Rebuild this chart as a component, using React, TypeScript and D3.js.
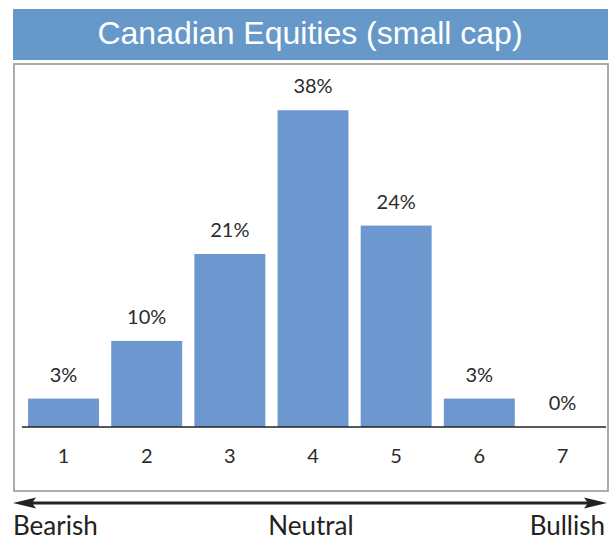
import React, {useEffect, useRef} from 'react'
import * as d3 from 'd3';

// chart values (percent of respondents per score)
const title = 'Canadian Equities (small cap)';
const scores = ['1', '2', '3', '4', '5', '6', '7'];
const shares = [3.4, 10.3, 20.7, 37.9, 24.1, 3.4, 0];
const sentimentLabels = ['Bearish', 'Neutral', 'Bullish'];

export default function App(){
    const svgRef = useRef<SVGSVGElement>(null);

    const W = 615, H = 542;
    const baseY = 427;
    const textFont = 'Lato, "Open Sans", sans-serif';

    useEffect(() => {
        const svg = d3.select(svgRef.current);
        svg.selectAll('*').remove();

        // title banner
        svg.append('rect')
            .attr('x', 13).attr('y', 9)
            .attr('width', 595).attr('height', 51)
            .attr('fill', '#6699c9');
        svg.append('text')
            .attr('x', 310).attr('y', 44)
            .attr('text-anchor', 'middle')
            .attr('font-family', '"Liberation Sans", Arial, sans-serif')
            .attr('font-size', 32)
            .attr('fill', '#fff')
            .text(title);

        // frame
        svg.append('rect')
            .attr('x', 14).attr('y', 64)
            .attr('width', 594).attr('height', 427)
            .attr('fill', 'none')
            .attr('stroke', '#a3a3a3')
            .attr('stroke-width', 1.8);

        const xscale = d3.scaleBand()
            .domain(scores)
            .range([22, 604])
            .paddingInner(0.147)
            .paddingOuter(0.073);

        const yscale = d3.scaleLinear()
            .domain([0, 40])
            .range([baseY, baseY - 334.3]);

        const data = scores.map((s, i) => ({score: s, share: shares[i]}));

        svg.append('g')
            .selectAll('rect')
            .data(data)
            .join('rect')
            .attr('x', d => xscale(d.score)!)
            .attr('y', d => yscale(d.share))
            .attr('width', xscale.bandwidth())
            .attr('height', d => yscale(0) - yscale(d.share))
            .attr('fill', '#6c97cf');

        // value labels
        svg.append('g')
            .selectAll('text')
            .data(data)
            .join('text')
            .attr('x', d => xscale(d.score)! + xscale.bandwidth() / 2)
            .attr('y', d => yscale(d.share) - 17)
            .attr('text-anchor', 'middle')
            .attr('font-family', textFont)
            .attr('font-size', 20)
            .attr('fill', '#2b2b2b')
            .text(d => Math.round(d.share) + '%');

        // baseline
        svg.append('line')
            .attr('x1', 22).attr('x2', 606)
            .attr('y1', baseY).attr('y2', baseY)
            .attr('stroke', '#222')
            .attr('stroke-width', 1.3);

        // score labels
        svg.append('g')
            .selectAll('text')
            .data(scores)
            .join('text')
            .attr('x', d => xscale(d)! + xscale.bandwidth() / 2)
            .attr('y', 463)
            .attr('text-anchor', 'middle')
            .attr('font-family', textFont)
            .attr('font-size', 20)
            .attr('fill', '#2b2b2b')
            .text(d => d);

        // double arrow
        const ay = 503;
        svg.append('line')
            .attr('x1', 25).attr('x2', 595)
            .attr('y1', ay).attr('y2', ay)
            .attr('stroke', '#222')
            .attr('stroke-width', 3.2);
        const head = (tip: number, dir: number) =>
            `M${tip},${ay} L${tip + dir * 23},${ay - 5.5} L${tip + dir * 19},${ay} L${tip + dir * 23},${ay + 5.5} Z`;
        svg.append('path').attr('d', head(13, 1)).attr('fill', '#222');
        svg.append('path').attr('d', head(607, -1)).attr('fill', '#222');

        // sentiment labels
        const anchors = ['start', 'middle', 'end'];
        const xs = [13, 311, 605];
        svg.append('g')
            .selectAll('text')
            .data(sentimentLabels)
            .join('text')
            .attr('x', (d, i) => xs[i])
            .attr('y', 535)
            .attr('text-anchor', (d, i) => anchors[i])
            .attr('font-family', textFont)
            .attr('font-size', 26)
            .attr('fill', '#222')
            .text(d => d);
    }, []);

    return (
        <svg
            ref={svgRef}
            width={W}
            height={H}
            style={{position: 'absolute', left: 0, top: 0}}
        />
    );
}
